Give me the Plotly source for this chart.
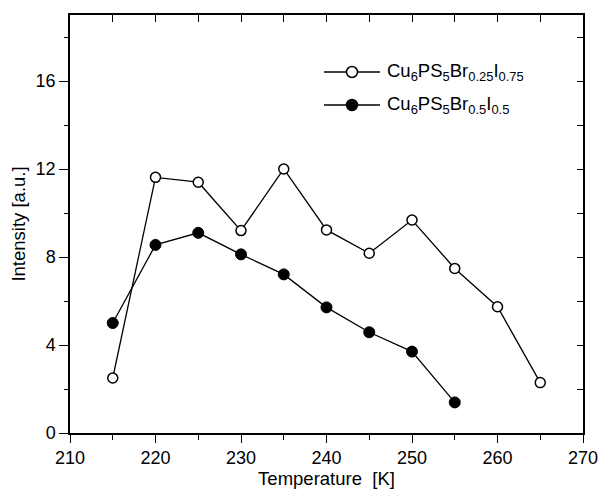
import plotly.graph_objects as go

temps_a = [215, 220, 225, 230, 235, 240, 245, 250, 255, 260, 265]
vals_a = [2.5, 11.62, 11.4, 9.2, 12.0, 9.23, 8.17, 9.68, 7.48, 5.74, 2.29]
temps_b = [215, 220, 225, 230, 235, 240, 245, 250, 255]
vals_b = [5.0, 8.55, 9.1, 8.12, 7.21, 5.71, 4.58, 3.70, 1.39]
name_a = "Cu<sub>6</sub>PS<sub>5</sub>Br<sub>0.25</sub>I<sub>0.75</sub>"
name_b = "Cu<sub>6</sub>PS<sub>5</sub>Br<sub>0.5</sub>I<sub>0.5</sub>"

font = "Liberation Sans, Arial, sans-serif"
L, R, T, B = 70, 16, 15, 56
W, H = 599, 489
pw, ph = W - L - R, H - T - B

def px(xp):
    return (xp - L) / pw

def py(yp):
    return (H - B - yp) / ph

fig = go.Figure()
fig.add_trace(go.Scatter(x=temps_a, y=vals_a, mode="lines+markers", name=name_a,
                         line=dict(color="black", width=1.3),
                         marker=dict(symbol="circle", size=10, color="white",
                                     line=dict(color="black", width=1.5))))
fig.add_trace(go.Scatter(x=temps_b, y=vals_b, mode="lines+markers", name=name_b,
                         line=dict(color="black", width=1.3),
                         marker=dict(symbol="circle", size=11, color="black",
                                     line=dict(color="black", width=1))))
fig.add_trace(go.Scatter(x=[None], y=[None], xaxis="x2", yaxis="y2", showlegend=False,
                         hoverinfo="skip"))

# manual legend (line segment + marker + label)
legend_rows = [(72, name_a, "white"), (105, name_b, "black")]
for yrow, label, fill in legend_rows:
    fig.add_shape(type="line", xref="paper", yref="paper",
                  x0=px(324), x1=px(380), y0=py(yrow), y1=py(yrow),
                  line=dict(color="black", width=1.3))
    fig.add_shape(type="circle", xref="paper", yref="paper",
                  xsizemode="pixel", ysizemode="pixel",
                  xanchor=px(352), yanchor=py(yrow),
                  x0=-5.5, x1=5.5, y0=-5.5, y1=5.5,
                  fillcolor=fill, line=dict(color="black", width=1.5))
    fig.add_annotation(xref="paper", yref="paper", x=px(385), y=py(yrow),
                       xanchor="left", yanchor="middle", showarrow=False,
                       text=label, font=dict(size=18.5, family=font, color="black"))

fig.update_layout(
    width=W, height=H,
    margin=dict(l=L, r=R, t=T, b=B),
    paper_bgcolor="white", plot_bgcolor="white",
    font=dict(family=font, size=18, color="black"),
    showlegend=False,
    xaxis=dict(range=[210, 270], tickvals=[210, 220, 230, 240, 250, 260, 270],
               ticks="outside", ticklen=8, tickwidth=1.3, tickcolor="black",
               tickfont=dict(size=18),
               minor=dict(tickvals=[215, 225, 235, 245, 255, 265], ticks="outside",
                          ticklen=5, tickwidth=1.3, tickcolor="black"),
               showline=True, linecolor="black", linewidth=1.5, mirror=True,
               showgrid=False, zeroline=False, automargin=False,
               title=dict(text="Temperature\u00a0 [K]", font=dict(size=18.5), standoff=3)),
    yaxis=dict(range=[0, 19], tickvals=[0, 4, 8, 12, 16],
               ticks="outside", ticklen=9, tickwidth=1.3, tickcolor="black",
               tickfont=dict(size=18),
               minor=dict(tickvals=[2, 6, 10, 14, 18], ticks="outside",
                          ticklen=4, tickwidth=1.3, tickcolor="black"),
               showline=True, linecolor="black", linewidth=1.5, mirror=True,
               showgrid=False, zeroline=False, automargin=False,
               title=dict(text="Intensity [a.u.]", font=dict(size=18.5), standoff=5)),
    xaxis2=dict(range=[210, 270], overlaying="x", side="top", anchor="y",
                tickvals=[215, 220, 225, 230, 235, 240, 245, 250, 255, 260, 265],
                ticks="inside", ticklen=7, tickwidth=1.3, tickcolor="black",
                showticklabels=False, showgrid=False, zeroline=False, showline=False),
    yaxis2=dict(range=[0, 19], overlaying="y", side="right", anchor="x",
                tickvals=[2, 4, 6, 8, 10, 12, 14, 16, 18],
                ticks="inside", ticklen=6, tickwidth=1.3, tickcolor="black",
                showticklabels=False, showgrid=False, zeroline=False, showline=False),
)

fig.write_html("out.html")
